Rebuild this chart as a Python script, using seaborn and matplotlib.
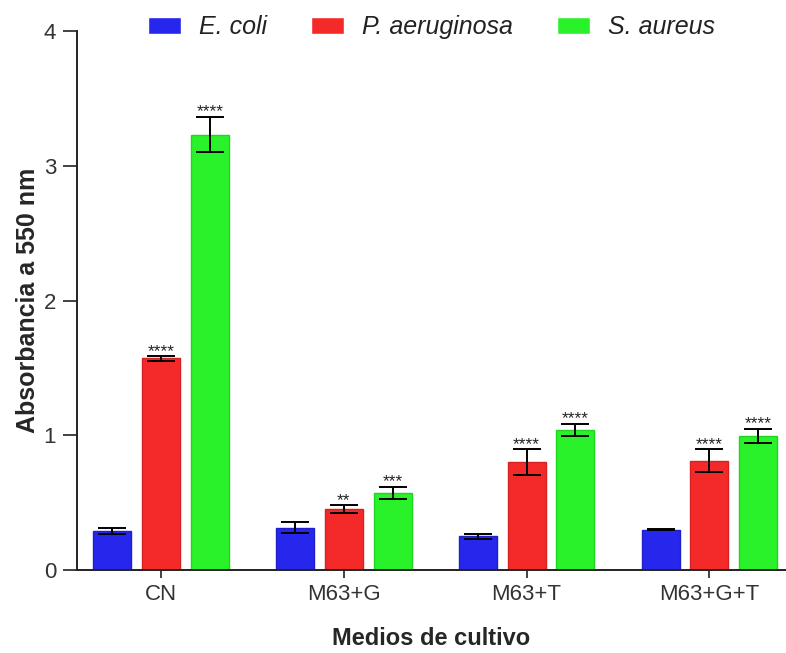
import matplotlib
matplotlib.use("Agg")
import matplotlib.pyplot as plt
import seaborn as sns
import pandas as pd
import numpy as np

# Mean absorbance (550 nm) per culture medium and strain, with error and significance
medios = ["CN", "M63+G", "M63+T", "M63+G+T"]
cepas = ["E. coli", "P. aeruginosa", "S. aureus"]

ecoli_media = [0.29, 0.315, 0.25, 0.30]
ecoli_err = [0.02, 0.04, 0.02, 0.006]
paer_media = [1.57, 0.45, 0.80, 0.81]
paer_err = [0.015, 0.03, 0.095, 0.085]
saur_media = [3.23, 0.575, 1.04, 0.995]
saur_err = [0.13, 0.045, 0.045, 0.05]

ecoli_sig = ["", "", "", ""]
paer_sig = ["****", "**", "****", "****"]
saur_sig = ["****", "***", "****", "****"]

colores = ["#2626EC", "#F42A2A", "#2AF22A"]
bordes = ["#2020C8", "#D42222", "#22D422"]

medias = [ecoli_media, paer_media, saur_media]
errores = [ecoli_err, paer_err, saur_err]
signos = [ecoli_sig, paer_sig, saur_sig]

df = pd.DataFrame({
    "Medio": np.tile(medios, len(cepas)),
    "Cepa": np.repeat(cepas, len(medios)),
    "Absorbancia": np.concatenate(medias),
})

sns.set_style("ticks")
plt.rcParams["font.family"] = ["Liberation Sans", "DejaVu Sans"]

fig = plt.figure(figsize=(7.86, 6.53), dpi=100)
ax = fig.add_axes([0.098, 0.127, 0.902, 0.8255])

sns.barplot(data=df, x="Medio", y="Absorbancia", hue="Cepa", order=medios,
            hue_order=cepas, palette=colores, saturation=1, errorbar=None,
            gap=0.22, width=0.8, linewidth=1.0, ax=ax)

# Error bars and significance marks, placed on each bar
for i, cepa in enumerate(cepas):
    cont = ax.containers[i]
    for j, bar in enumerate(cont):
        bar.set_edgecolor(bordes[i])
        x = bar.get_x() + bar.get_width() / 2
        h = bar.get_height()
        e = errores[i][j]
        ax.errorbar(x, h, yerr=e, color="black", capsize=10, capthick=1.4,
                    elinewidth=1.4, zorder=5)
        if signos[i][j]:
            ax.annotate(signos[i][j], (x, h + e), xytext=(0, 0.5),
                        textcoords="offset points", ha="center", va="baseline",
                        fontsize=12.5, color="#222222")

ax.set_ylim(0, 4)
ax.set_xlim(-0.46, 3.42)
ax.set_yticks([0, 1, 2, 3, 4])
ax.set_yticklabels(["0", "1", "2", "3", "4"])

ax.set_xlabel("Medios de cultivo", fontsize=17, fontweight="bold", labelpad=16)
ax.set_ylabel("Absorbancia a 550 nm", fontsize=18, fontweight="bold", labelpad=3)

ax.tick_params(axis="y", length=10, width=1.2, labelsize=16, pad=5, color="#222222",
               labelcolor="#333333")
ax.tick_params(axis="x", length=6, width=1.2, labelsize=16, pad=4, color="#222222",
               labelcolor="#333333")

sns.despine(ax=ax, top=True, right=True)
for s in ["left", "bottom"]:
    ax.spines[s].set_linewidth(1.4)
    ax.spines[s].set_color("#222222")

leg = ax.legend(loc="upper center", bbox_to_anchor=(0.5, 1.048), ncol=3,
                frameon=False, prop={"size": 18, "style": "italic"},
                handlelength=1.32, handleheight=0.68, handletextpad=0.72,
                columnspacing=1.76, borderaxespad=0)
for t in leg.get_texts():
    t.set_color("#222222")

fig.savefig("out.png", dpi=100)
